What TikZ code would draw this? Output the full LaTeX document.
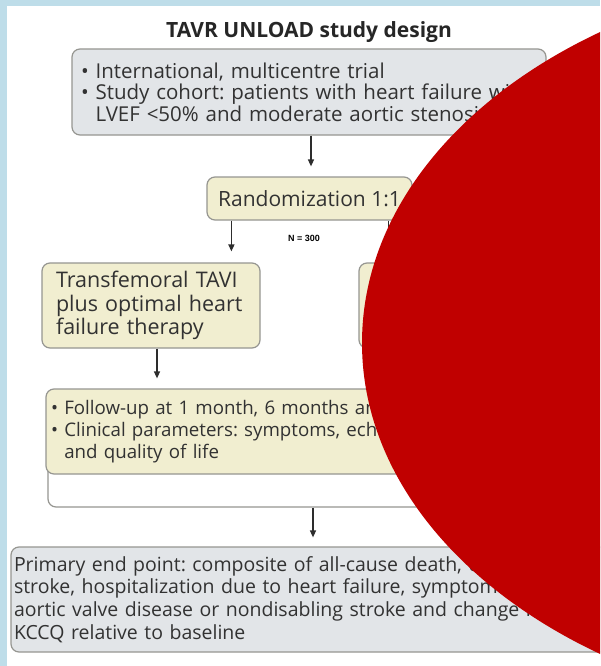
\documentclass[tikz,border=0pt]{standalone}
\usepackage{fontspec}
\setmainfont{Open Sans}
\newfontfamily\arialfont{Liberation Sans}
\usetikzlibrary{arrows.meta}
\definecolor{frameblue}{RGB}{190,221,233}
\definecolor{greyfill}{RGB}{226,229,232}
\definecolor{beigefill}{RGB}{241,238,208}
\definecolor{boxline}{RGB}{150,150,145}
\definecolor{redblob}{RGB}{192,0,0}
\definecolor{txt}{RGB}{50,50,50}
\definecolor{arrowcol}{RGB}{45,45,45}
\tikzset{
  box/.style={draw=boxline, line width=1.2pt, rounded corners=8pt, inner sep=0pt, text=txt,
    font=\fontsize{19.5}{22.5}\selectfont},
  greybox/.style={box, fill=greyfill},
  beigebox/.style={box, fill=beigefill},
  arr/.style={draw=arrowcol, line width=1.4pt, -{Triangle[length=7pt,width=6pt]}},
}
\begin{document}
\frenchspacing
\begin{tikzpicture}[x=1pt,y=-1pt]
\useasboundingbox (0,0) rectangle (600,666);
\clip (0,0) rectangle (600,666);
\fill[white] (0,0) rectangle (600,666);
\fill[frameblue] (0,0) rectangle (600,6);
\fill[frameblue] (0,0) rectangle (7,666);

\node[font=\fontsize{21}{24}\selectfont\bfseries, text=black!85] (title) at (309,32) {TAVR UNLOAD study design};

\node[greybox, minimum width=474pt, minimum height=86pt, text width=456pt, align=left,
  font=\fontsize{20.5}{21.5}\selectfont] (cohort) at (309,92)
  {• International, multicentre trial\\
   • Study cohort: patients with heart failure with\\
   \hphantom{• }LVEF <50\% and moderate aortic stenosis};

\node[beigebox, minimum width=205pt, minimum height=43pt, font=\fontsize{21}{24}\selectfont] (random) at (309.5,198.5) {Randomization 1:1};

\node[font=\arialfont\bfseries\fontsize{9}{10}\selectfont] (n) at (304,238) {N = 300};

\node[beigebox, minimum width=218pt, minimum height=85pt, text width=190pt, align=left,
  font=\fontsize{21.5}{23.5}\selectfont] (left) at (151,305.5)
  {Transfemoral TAVI\\ plus optimal heart\\ failure therapy};
\node[beigebox, minimum width=218pt, minimum height=85pt] (right) at (468,305.5) {};

\node[draw=boxline, line width=1.2pt, rounded corners=8pt, fill=white, minimum width=524pt, minimum height=80pt, inner sep=0pt] (bracket) at (310,467) {};

\node[beigebox, minimum width=528pt, minimum height=85pt, text width=518pt, align=left,
  font=\fontsize{18.7}{22}\selectfont] (follow) at (310,431.5)
  {• Follow-up at 1 month, 6 months and 12 months\\
   • Clinical parameters: symptoms, echocardiography\\
   \hphantom{• }and quality of life};

\node[greybox, minimum width=598pt, minimum height=105pt, text width=592pt, align=left,
  font=\fontsize{19.5}{22.7}\selectfont] (primary) at (310,599.5)
  {Primary end point: composite of all-cause death, disabling\\
   stroke, hospitalization due to heart failure, symptomatic\\
   aortic valve disease or nondisabling stroke and change in\\
   KCCQ relative to baseline};

\draw[arr, shorten >=10pt] ([xshift=2pt]cohort.south) -- ([xshift=2pt]cohort.south |- random.north);
\draw[arr, shorten >=11pt] ([xshift=25pt]random.south west) -- ([xshift=25pt]random.south west |- left.north);
\draw[arr, shorten >=11pt] ([xshift=-24pt]random.south east) -- ([xshift=-24pt]random.south east |- right.north);
\draw[arr, shorten >=10pt] ([xshift=6pt]left.south) -- ([xshift=6pt]left.south |- follow.north);
\draw[arr, shorten >=10pt] ([xshift=-6pt]right.south) -- ([xshift=-6pt]right.south |- follow.north);
\draw[arr, shorten >=9pt] ([xshift=3pt]bracket.south) -- ([xshift=3pt]bracket.south |- primary.north);

\fill[redblob] (902,343) ellipse [x radius=540pt, y radius=375pt];
\end{tikzpicture}
\end{document}
